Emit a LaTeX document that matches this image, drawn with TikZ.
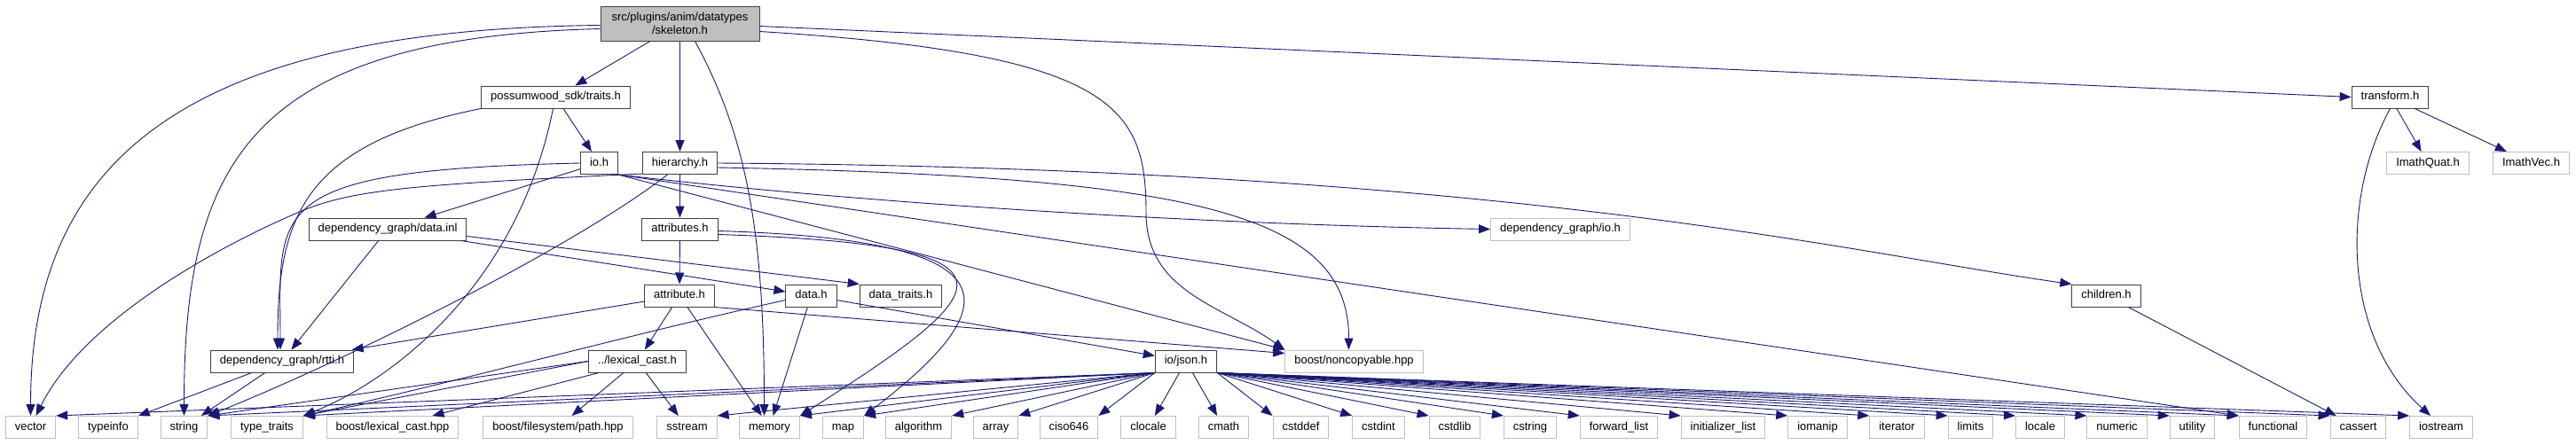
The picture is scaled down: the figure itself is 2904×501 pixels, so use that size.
\documentclass[tikz,border=0pt]{standalone}
\usepackage{fontspec}
\setmainfont{Liberation Sans}
\usetikzlibrary{arrows.meta}
\definecolor{Edge}{HTML}{191970}
\definecolor{Frame}{HTML}{404040}
\definecolor{Grey}{HTML}{BFBFBF}

\begin{document}
\begin{tikzpicture}[
    x=1pt,y=-1pt,
    file/.style={draw=Frame, fill=white, line width=1pt, minimum height=25pt,
      inner xsep=10.5pt, inner ysep=0pt, text height=9.5pt, text depth=2.7pt,
      font=\fontsize{13}{15}\selectfont},
    sys/.style={file, draw=Grey},
    main/.style={draw=Frame, fill=Grey, line width=1pt, minimum width=179pt,
      minimum height=39pt, inner sep=0pt, align=center,
      font=\fontsize{13}{15}\selectfont},
    link/.style={-{Triangle[length=13pt,width=10pt]}, line width=0.9pt, color=Edge}
  ]
    \useasboundingbox (0,0) rectangle (2904,501);

    \node[main] (skeleton) at (766.5,26.5) {src/plugins/anim/datatypes\\/skeleton.h};

    \node[file] (traits) at (626.5,109.5) {possumwood\_sdk/traits.h};
    \node[file] (transform) at (2694.5,109.5) {transform.h};

    \node[file] (io) at (675.5,184) {io.h};
    \node[file] (hierarchy) at (766.5,184) {hierarchy.h};
    \node[sys] (quat) at (2737,184) {ImathQuat.h};
    \node[sys] (imathvec) at (2853.5,184) {ImathVec.h};

    \node[file] (datainl) at (437,258.5) {dependency\_graph/data.inl};
    \node[file] (attributes) at (766.5,258.5) {attributes.h};
    \node[sys] (dgio) at (1759,258.5) {dependency\_graph/io.h};

    \node[file] (attribute) at (766,333.5) {attribute.h};
    \node[file] (datah) at (914.5,333.5) {data.h};
    \node[file] (datatraits) at (1015.5,333.5) {data\_traits.h};
    \node[file] (children) at (2374.5,333.5) {children.h};

    \node[file] (rtti) at (318,407.5) {dependency\_graph/rtti.h};
    \node[file] (lexcast) at (718.5,407.5) {../lexical\_cast.h};
    \node[file] (json) at (1337,407.5) {io/json.h};
    \node[sys] (noncopy) at (1526.5,407.5) {boost/noncopyable.hpp};

    \node[sys] (vector) at (34.5,482) {vector};
    \node[sys] (typeinfo) at (122,482) {typeinfo};
    \node[sys] (string) at (207.5,482) {string};
    \node[sys] (typetraits) at (301,482) {type\_traits};
    \node[sys] (blexcast) at (442.5,482) {boost/lexical\_cast.hpp};
    \node[sys] (fspath) at (629,482) {boost/filesystem/path.hpp};
    \node[sys] (sstream) at (774.5,482) {sstream};
    \node[sys] (memory) at (867.5,482) {memory};
    \node[sys] (map) at (950.5,482) {map};
    \node[sys] (algorithm) at (1035.5,482) {algorithm};
    \node[sys] (array) at (1122.5,482) {array};
    \node[sys] (ciso) at (1205,482) {ciso646};
    \node[sys] (clocale) at (1294.5,482) {clocale};
    \node[sys] (cmath) at (1379.5,482) {cmath};
    \node[sys] (cstddef) at (1466.5,482) {cstddef};
    \node[sys] (cstdint) at (1554,482) {cstdint};
    \node[sys] (cstdlib) at (1640,482) {cstdlib};
    \node[sys] (cstring) at (1725,482) {cstring};
    \node[sys] (fwdlist) at (1825,482) {forward\_list};
    \node[sys] (initlist) at (1942.5,482) {initializer\_list};
    \node[sys] (iomanip) at (2049,482) {iomanip};
    \node[sys] (iterator) at (2138.5,482) {iterator};
    \node[sys] (limits) at (2221.5,482) {limits};
    \node[sys] (locale) at (2300,482) {locale};
    \node[sys] (numeric) at (2386.5,482) {numeric};
    \node[sys] (utility) at (2471.5,482) {utility};
    \node[sys] (functional) at (2562.5,482) {functional};
    \node[sys] (cassert) at (2658.5,482) {cassert};
    \node[sys] (iostream) at (2752,482) {iostream};

    \draw[link] ([yshift=-2pt]skeleton.west) .. controls +(-480,5) and +(0,-280) .. (vector.north);
    \draw[link] ([yshift=-6pt]skeleton.west) .. controls +(-400,10) and +(0,-280) .. (string.north);
    \draw[link] (skeleton) -- (traits);
    \draw[link] (skeleton) -- (hierarchy);
    \draw[link] ([xshift=17pt]skeleton.south) .. controls +(60,110) and +(0,-200) .. ([xshift=-6pt]memory.north);
    \draw[link] ([yshift=-9pt]skeleton.east) .. controls +(400,25) and +(0,-120) .. (1292,240)
      .. controls +(0,90) and +(-70,-50) .. (noncopy.north west);
    \draw[link] ([yshift=-3pt]skeleton.east) -- (transform.west);

    \draw[link] (traits) -- (io);
    \draw[link] (traits.south west) .. controls +(-200,40) and +(0,-150) .. ([xshift=-5pt]rtti.north);
    \draw[link] ([xshift=-3pt]traits.south) .. controls +(-40,200) and +(100,-40) .. (typetraits.north east);

    \draw[link] (io) -- (datainl);
    \draw[link] (io.west) .. controls +(-360,8) and +(0,-160) .. ([xshift=-2pt]rtti.north);
    \draw[link] (io.south east) .. controls +(300,35) and +(-300,-5) .. (dgio.west);
    \draw[link] (io.south east) -- (functional.north west);
    \draw[link] (io.south east) -- (noncopy.north west);

    \draw[link] ([yshift=-12pt]hierarchy.west) .. controls +(-250,12) and +(60,-25) .. (340,238)
      .. controls +(-60,25) and +(60,-120) .. ([xshift=6pt]vector.north);
    \draw[link] ([xshift=-14pt]hierarchy.south) .. controls +(-110,85) and +(150,-60) .. (string.north east);
    \draw[link] (hierarchy) -- (attributes);
    \draw[link] (hierarchy.east) .. controls +(900,6) and +(-250,-35) .. (children.north west);
    \draw[link] ([yshift=-5pt]hierarchy.east) .. controls +(550,10) and +(0,-150) .. ([xshift=-6pt]noncopy.north);

    \draw[link] (datainl) -- (rtti);
    \draw[link] (datainl) -- (datah);
    \draw[link] ([yshift=-8pt]datainl.east) -- (datatraits.north west);

    \draw[link] (attributes) -- (attribute);
    \draw[link] ([yshift=-2pt]attributes.east) .. controls +(330,10) and +(170,-130) .. (map.north east);
    \draw[link] ([yshift=-6pt]attributes.east) .. controls +(370,12) and +(220,-140) .. (memory.north east);

    \draw[link] (attribute) -- (lexcast);
    \draw[link] (attribute) -- (memory);
    \draw[link] (attribute) -- (rtti);
    \draw[link] (attribute.south east) -- ([yshift=9pt]noncopy.west);

    \draw[link] (datah) -- (memory);
    \draw[link] ([yshift=-5pt]datah.west) .. controls +(-180,40) and +(180,-40) .. (typetraits.north east);
    \draw[link] (datah) -- (json);

    \draw[link] (lexcast.west) -- (string.north east);
    \draw[link] (lexcast.west) -- (typetraits.north east);
    \draw[link] ([xshift=12pt]lexcast.south west) -- ([xshift=-30pt]blexcast.north east);
    \draw[link] (lexcast) -- (fspath);
    \draw[link] (lexcast) -- (sstream);

    \draw[link] (rtti) -- (typeinfo);
    \draw[link] (rtti) -- (string);

    \draw[link] (json.south west) -- (vector.north east);
    \draw[link] (json.south west) -- (string.north east);
    \draw[link] (json.south west) -- (typetraits.north east);
    \draw[link] (json.south west) -- (sstream.north east);
    \draw[link] (json.south west) -- (memory.north east);
    \draw[link] (json.south west) -- (map.north east);
    \draw[link] (json.south west) -- (algorithm.north east);
    \draw[link] (json.south west) -- (array.north east);
    \draw[link] (json.south west) -- (ciso.north east);
    \draw[link] (json) -- (clocale);
    \draw[link] (json) -- (cmath);
    \draw[link] (json.south east) -- (cstddef.north west);
    \draw[link] (json.south east) -- (cstdint.north west);
    \draw[link] (json.south east) -- (cstdlib.north west);
    \draw[link] (json.south east) -- (cstring.north west);
    \draw[link] (json.south east) -- (fwdlist.north west);
    \draw[link] (json.south east) -- (initlist.north west);
    \draw[link] (json.south east) -- (iomanip.north west);
    \draw[link] (json.south east) -- (iterator.north west);
    \draw[link] (json.south east) -- (limits.north west);
    \draw[link] (json.south east) -- (locale.north west);
    \draw[link] (json.south east) -- (numeric.north west);
    \draw[link] (json.south east) -- (utility.north west);
    \draw[link] (json.south east) -- (functional.north west);
    \draw[link] (json.south east) -- (cassert.north west);
    \draw[link] (json.south east) -- (iostream.north west);

    \draw[link] (children) -- (cassert);
    \draw[link] (transform) -- (quat);
    \draw[link] (transform) -- (imathvec);
    \draw[link] (transform.south) .. controls +(-55,100) and +(-100,-90) .. ([xshift=-12pt]iostream.north);
  \end{tikzpicture}
\end{document}
